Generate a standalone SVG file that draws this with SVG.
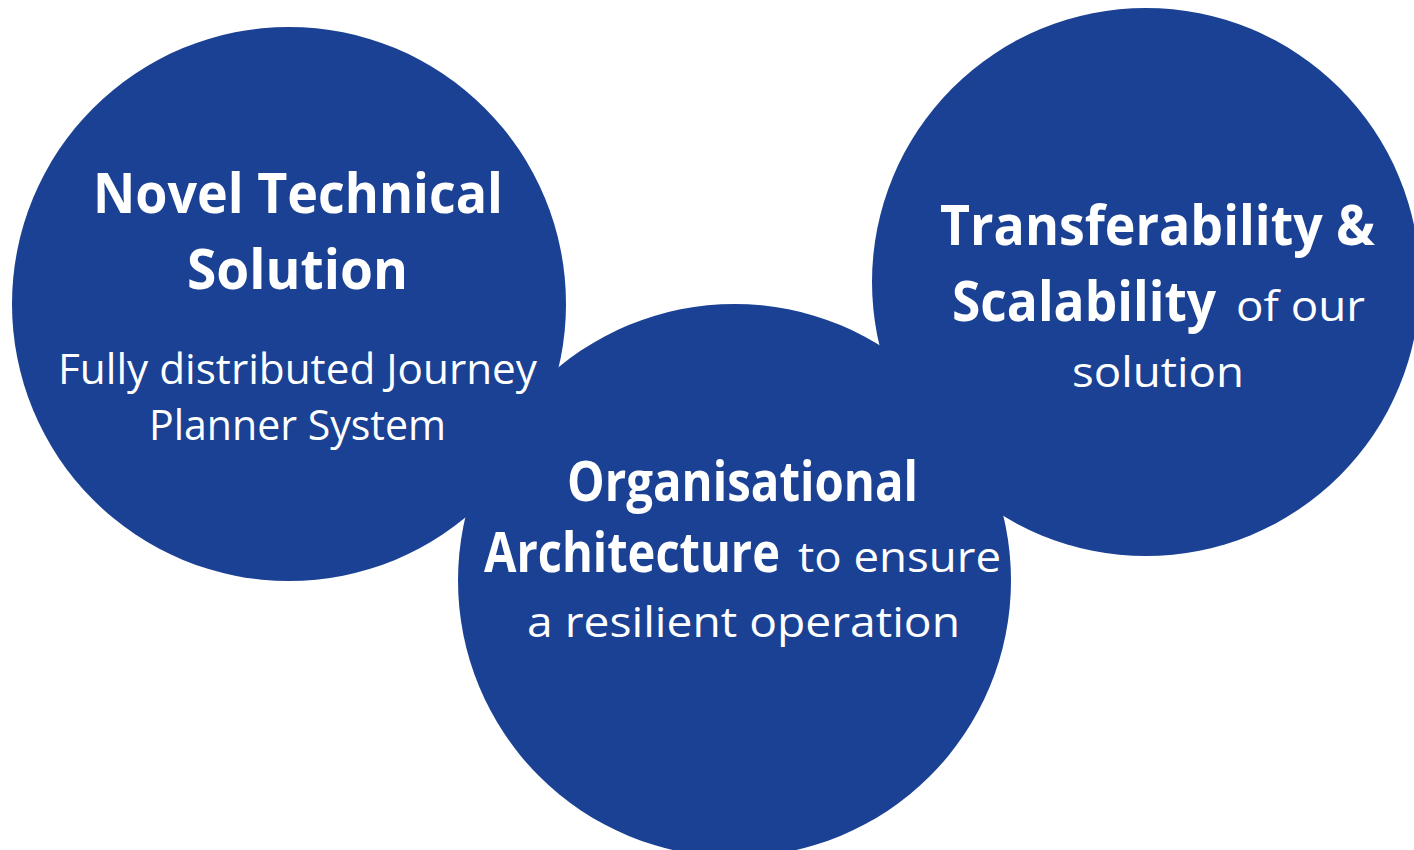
<svg xmlns="http://www.w3.org/2000/svg" width="1414" height="850" viewBox="0 0 1414 850">
<style>
.c{fill:#1a4194;}
.t{fill:#ffffff;font-family:"Open Sans","Noto Sans","Liberation Sans",sans-serif;}
.b{font-weight:700;font-size:56px;}
.r{font-weight:400;font-size:42px;}
</style>
<rect width="1414" height="850" fill="#ffffff"/>
<g id="connectors"></g>
<g id="node-technical">
<circle class="c" cx="289" cy="304" r="277"/>
</g>
<g id="node-transferability">
<circle class="c" cx="1146" cy="282" r="274"/>
</g>
<g id="node-organisational">
<circle class="c" cx="734.5" cy="580.5" r="276.5"/>
</g>
<g id="labels-technical">
<text class="t b" x="93" y="213" textLength="410" lengthAdjust="spacingAndGlyphs">Novel Technical</text>
<text class="t b" x="187" y="289" textLength="221" lengthAdjust="spacingAndGlyphs">Solution</text>
<text class="t r" x="58" y="384" textLength="479" lengthAdjust="spacingAndGlyphs">Fully distributed Journey</text>
<text class="t r" x="149" y="440" textLength="297" lengthAdjust="spacingAndGlyphs">Planner System</text>
</g>
<g id="labels-organisational">
<text class="t b" x="567" y="501" textLength="351" lengthAdjust="spacingAndGlyphs">Organisational</text>
<text class="t b" x="484" y="572" textLength="296" lengthAdjust="spacingAndGlyphs">Architecture</text>
<text class="t r" x="798" y="572" textLength="203" lengthAdjust="spacingAndGlyphs">to ensure</text>
<text class="t r" x="527" y="637" textLength="433" lengthAdjust="spacingAndGlyphs">a resilient operation</text>
</g>
<g id="labels-transferability">
<text class="t b" x="940" y="245" textLength="435" lengthAdjust="spacingAndGlyphs">Transferability &amp;</text>
<text class="t b" x="952" y="321" textLength="264" lengthAdjust="spacingAndGlyphs">Scalability</text>
<text class="t r" x="1236" y="321" textLength="129" lengthAdjust="spacingAndGlyphs">of our</text>
<text class="t r" x="1072" y="387" textLength="172" lengthAdjust="spacingAndGlyphs">solution</text>
</g>
</svg>
